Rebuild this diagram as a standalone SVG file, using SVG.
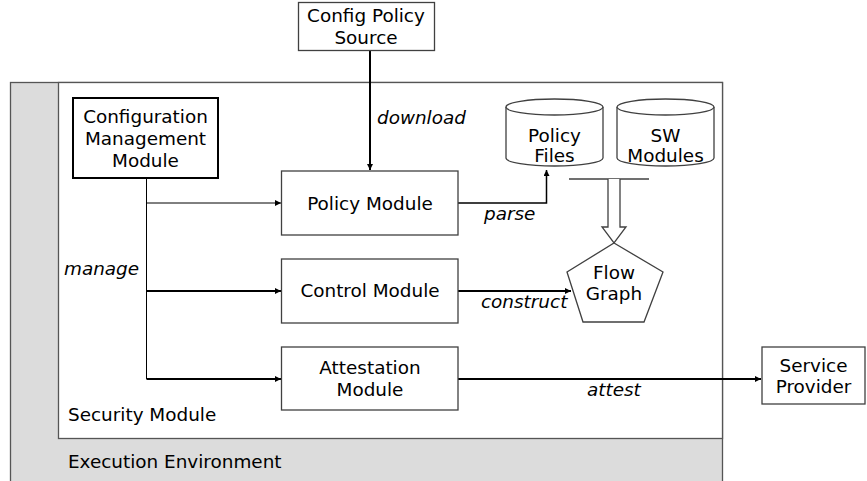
<svg xmlns="http://www.w3.org/2000/svg" width="867" height="481" viewBox="0 0 867 481">
<style>
text{font-family:"DejaVu Sans",Verdana,sans-serif;font-size:18.4px;fill:#000;text-anchor:middle}
.lbl{font-style:italic;text-anchor:start}
.cl{text-anchor:start}
.box{fill:#fff;stroke:#404040;stroke-width:1.3}
.c{fill:none;stroke:#000}
</style>
<defs>
<marker id="ah" viewBox="0 0 10 10" refX="10" refY="5" markerWidth="6" markerHeight="6" markerUnits="userSpaceOnUse" orient="auto"><path d="M0,0L10,5L0,10z" fill="#000"/></marker>
</defs>
<g id="execution-environment">
<rect x="10.5" y="82.5" width="712" height="410" fill="#dcdcdc" stroke="#555" stroke-width="1.3"/>
<text class="cl" x="68" y="468">Execution Environment</text>
</g>
<g id="security-module">
<rect x="58.5" y="82.5" width="664" height="356" fill="#fff" stroke="#555" stroke-width="1.3"/>
<text class="cl" x="68" y="421">Security Module</text>
</g>
<g id="connectors">
<path class="c" d="M370,50V170" stroke-width="2" marker-end="url(#ah)"/>
<path class="c" d="M146.5,178V379" stroke-width="1"/>
<path class="c" d="M146.5,203H281" stroke-width="1" marker-end="url(#ah)"/>
<path class="c" d="M146.5,291H281" stroke-width="2" marker-end="url(#ah)"/>
<path class="c" d="M146.5,379H281" stroke-width="2" marker-end="url(#ah)"/>
<path class="c" d="M458,203H546.5V170" stroke-width="1.5" marker-end="url(#ah)"/>
<path class="c" d="M458,291H571" stroke-width="2" marker-end="url(#ah)"/>
<path class="c" d="M458,379H761" stroke-width="2" marker-end="url(#ah)"/>
<path d="M569,179H649" fill="none" stroke="#404040" stroke-width="1.3"/>
<path d="M608,179V227H602L614,243L626,227H620V179" fill="#fff" stroke="#404040" stroke-width="1.3"/>
<text class="lbl" x="377" y="124">download</text>
<text class="lbl" x="484" y="220">parse</text>
<text class="lbl" x="64" y="275">manage</text>
<text class="lbl" x="481" y="308">construct</text>
<text class="lbl" x="587" y="396">attest</text>
</g>
<g id="config-policy-source">
<rect class="box" x="298.5" y="2.5" width="136" height="48"/>
<text x="366" y="22">Config Policy</text>
<text x="366" y="44">Source</text>
</g>
<g id="configuration-management-module">
<rect x="73" y="98" width="145" height="80" fill="#fff" stroke="#000" stroke-width="2"/>
<text x="145.5" y="123">Configuration</text>
<text x="145.5" y="145">Management</text>
<text x="145.5" y="167">Module</text>
</g>
<g id="policy-module">
<rect class="box" x="281.5" y="171" width="176.5" height="64"/>
<text x="370" y="210">Policy Module</text>
</g>
<g id="control-module">
<rect class="box" x="281.5" y="259" width="176.5" height="64"/>
<text x="370" y="297">Control Module</text>
</g>
<g id="attestation-module">
<rect class="box" x="281.5" y="347" width="176.5" height="63"/>
<text x="370" y="374">Attestation</text>
<text x="370" y="396">Module</text>
</g>
<g id="policy-files">
<path d="M506,107V158A48.5,8 0 0 0 603,158V107" fill="#fff" stroke="#404040" stroke-width="1.3"/>
<ellipse cx="554.5" cy="107" rx="48.5" ry="8" fill="#fff" stroke="#404040" stroke-width="1.3"/>
<text x="554.5" y="142">Policy</text>
<text x="554.5" y="162">Files</text>
</g>
<g id="sw-modules">
<path d="M617,107V158A48.5,8 0 0 0 714,158V107" fill="#fff" stroke="#404040" stroke-width="1.3"/>
<ellipse cx="665.5" cy="107" rx="48.5" ry="8" fill="#fff" stroke="#404040" stroke-width="1.3"/>
<text x="665.5" y="142">SW</text>
<text x="665.5" y="162">Modules</text>
</g>
<g id="flow-graph">
<polygon points="614,243 663,272 644,322 583,322 567,272" fill="#fff" stroke="#404040" stroke-width="1.3"/>
<text x="614" y="279">Flow</text>
<text x="614" y="300">Graph</text>
</g>
<g id="service-provider">
<rect class="box" x="762" y="347" width="103" height="57"/>
<text x="813.5" y="372">Service</text>
<text x="813.5" y="393">Provider</text>
</g>
</svg>
